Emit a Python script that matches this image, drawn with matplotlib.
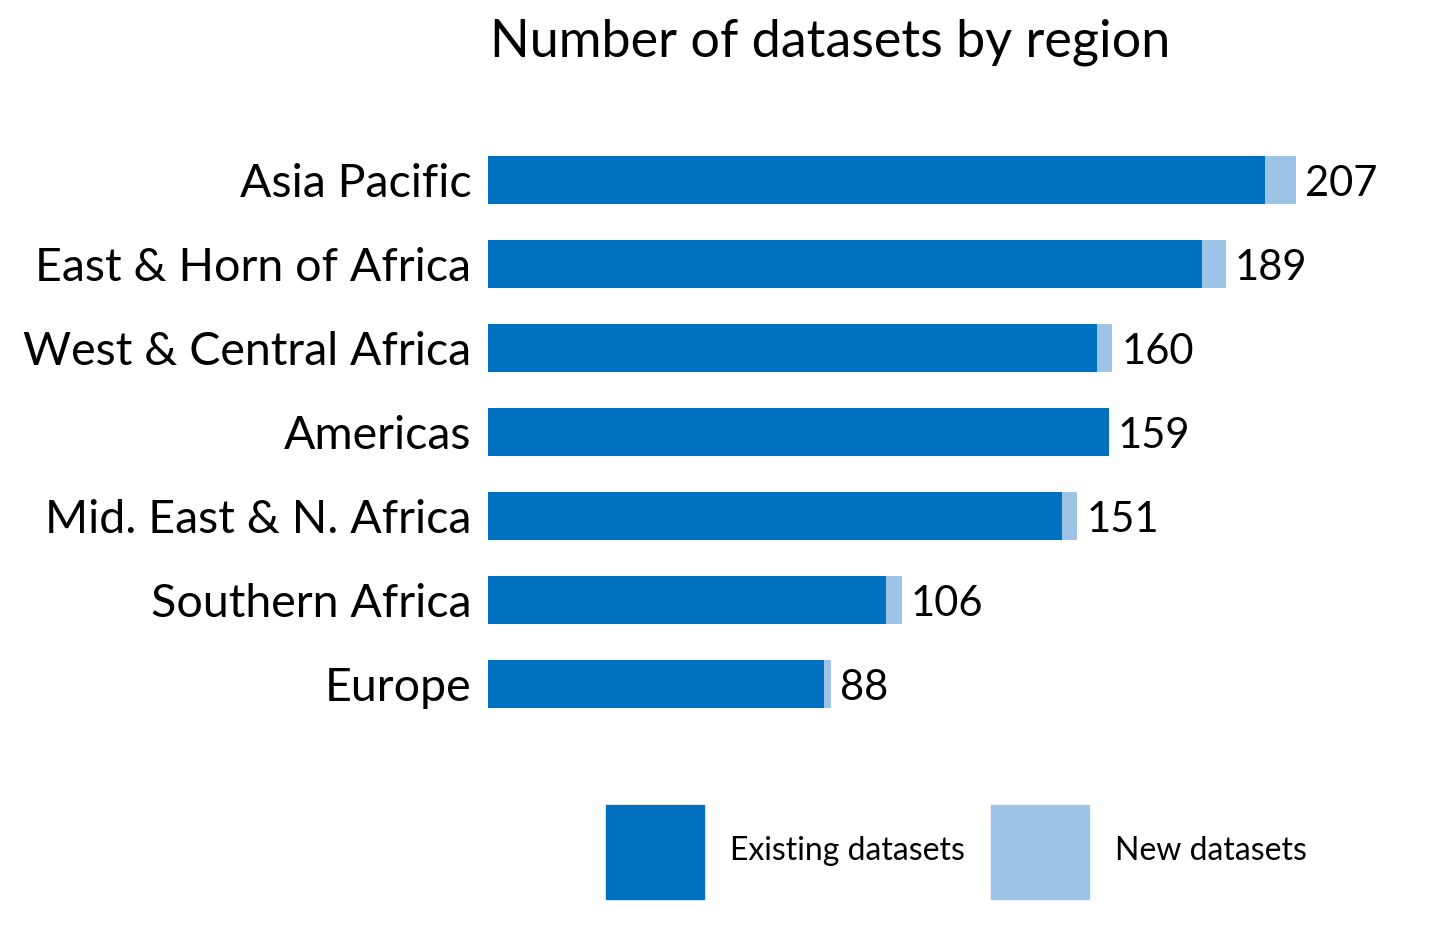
import matplotlib
matplotlib.use("Agg")
import matplotlib.pyplot as plt
from matplotlib.patches import Patch

plt.rcParams['font.family'] = ['Lato', 'DejaVu Sans']

regions = ["Asia Pacific", "East & Horn of Africa", "West & Central Africa",
           "Americas", "Mid. East & N. Africa", "Southern Africa", "Europe"]
existing = [199, 183, 156, 159, 147, 102, 86]
new = [8, 6, 4, 0, 4, 4, 2]

dark = "#0070C0"
light = "#9DC3E6"

fig = plt.figure(figsize=(14.4, 9.48), dpi=100)
ax = fig.add_axes([488 / 1440, 1 - 726 / 948, 897.7 / 1440, 588 / 948])

pos = list(range(len(regions)))
ax.barh(pos, existing, height=0.56, color=dark)
ax.barh(pos, new, left=existing, height=0.56, color=light)

for p, e, n in zip(pos, existing, new):
    ax.annotate(str(e + n), (e + n, p), xytext=(6.5, 0), textcoords="offset points",
                va="center_baseline", ha="left", fontsize=30)

ax.set_xlim(0, 230)
ax.set_ylim(len(regions) - 0.5, -0.5)
ax.set_yticks(pos)
ax.set_yticklabels(regions, fontsize=33.5)
ax.tick_params(axis="y", length=0, pad=12)
ax.set_xticks([])
for s in ax.spines.values():
    s.set_visible(False)

fig.text(830 / 1440, 1 - 42 / 948, "Number of datasets by region",
         ha="center", va="center", fontsize=37.5)

handles = [Patch(color=dark, label="Existing datasets"),
           Patch(color=light, label="New datasets")]
fig.legend(handles=handles, loc="center left", bbox_to_anchor=(606 / 1440, 1 - 852 / 948),
           ncol=2, frameon=False, fontsize=23, handlelength=3.07, handleheight=4.17,
           handletextpad=0.81, columnspacing=0.81, borderpad=0, borderaxespad=0)

fig.savefig("out.png", dpi=100)
